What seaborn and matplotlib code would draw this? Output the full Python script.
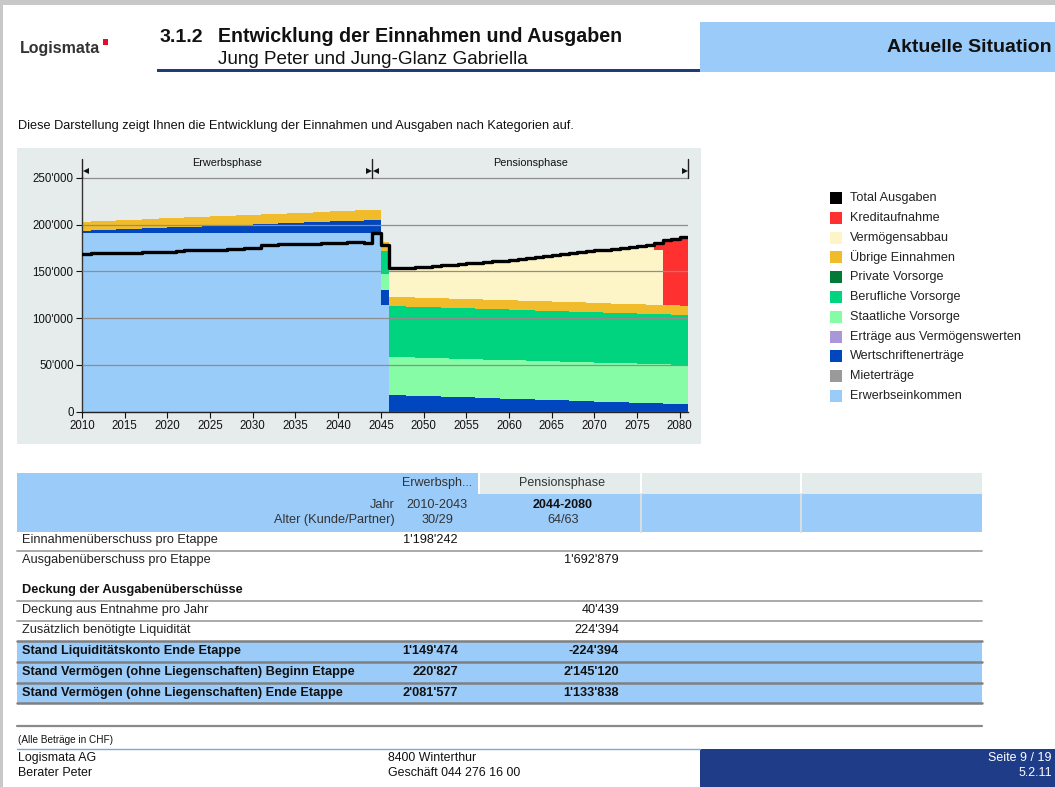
import matplotlib
matplotlib.use("Agg")
import matplotlib.pyplot as plt
from matplotlib.patches import Rectangle
from matplotlib.lines import Line2D
from matplotlib.ticker import FuncFormatter
import seaborn as sns
import pandas as pd
import numpy as np

# ---------------- data (CHF thousands) ----------------
years = list(range(2010, 2081))

# Erwerbsphase columns 2010-2044
eink_a = [191.0, 191.0, 191.0, 191.0, 191.0, 191.0, 191.0, 191.0, 191.0, 191.0,
          191.0, 191.0, 191.0, 191.0, 191.0, 191.0, 191.0, 191.0, 191.0, 191.0,
          191.0, 191.0, 191.0, 191.0, 191.0, 191.0, 191.0, 191.0, 191.0, 191.0,
          191.0, 191.0, 191.0, 191.0, 191.0]
wert_a = [2.8, 3.1, 3.5, 3.8, 4.1, 4.5, 4.8, 5.1, 5.5, 5.8, 6.1, 6.5, 6.8, 7.1, 7.5,
          7.8, 8.1, 8.5, 8.8, 9.1, 9.5, 9.8, 10.1, 10.5, 10.8, 11.1, 11.5, 11.8, 12.1,
          12.5, 12.8, 13.1, 13.5, 13.8, 14.1]
uebr_a = [9.5, 9.5, 9.6, 9.6, 9.7, 9.7, 9.7, 9.8, 9.8, 9.9, 9.9, 9.9, 10.0, 10.0, 10.1,
          10.1, 10.1, 10.2, 10.2, 10.3, 10.3, 10.3, 10.4, 10.4, 10.5, 10.5, 10.5, 10.6,
          10.6, 10.7, 10.7, 10.7, 10.8, 10.8, 10.8]
total_a = [168.4, 169.4, 169.4, 169.4, 169.4, 169.4, 170.1, 171.2, 171.2, 171.2, 171.2,
           172.2, 172.6, 172.6, 172.6, 172.6, 173.3, 173.8, 173.8, 175.4, 175.4, 178.0,
           178.0, 179.0, 179.0, 179.0, 179.0, 179.0, 180.1, 180.1, 180.1, 181.5, 181.5,
           180.8, 190.8]

# transition year 2045
eink_b, wert_b, staat_b, beruf_b, uebr_b, total_b = 114.0, 16.0, 17.0, 25.0, 10.0, 178.3

# Pensionsphase 2046-2080
wert_c = [17.9, 17.6, 17.3, 17.0, 16.7, 16.4, 16.1, 15.8, 15.5, 15.3, 15.0, 14.7, 14.4,
          14.1, 13.8, 13.5, 13.2, 12.9, 12.6, 12.3, 12.0, 11.7, 11.4, 11.1, 10.8, 10.5,
          10.2, 9.9, 9.6, 9.3, 9.1, 8.8, 8.5, 8.2, 7.9]
staat_c = [40.6, 40.6, 40.7, 40.7, 40.8, 40.8, 40.9, 40.9, 41.0, 41.0, 41.1, 41.1, 41.2,
           41.2, 41.3, 41.3, 41.4, 41.4, 41.5, 41.5, 41.6, 41.6, 41.7, 41.7, 41.8, 41.8,
           41.9, 41.9, 42.0, 42.0, 42.0, 42.1, 42.1, 42.1, 42.1]
beruf_c = [54.5, 54.5, 54.4, 54.4, 54.4, 54.3, 54.3, 54.3, 54.2, 54.2, 54.2, 54.1, 54.1,
           54.1, 54.0, 54.0, 54.0, 53.9, 53.9, 53.9, 53.8, 53.8, 53.8, 53.7, 53.7, 53.7,
           53.6, 53.6, 53.6, 53.5, 53.5, 53.5, 53.4, 53.4, 53.4]
uebr_c = [10.0, 10.0, 10.0, 10.0, 10.0, 10.0, 10.0, 10.0, 10.0, 10.0, 10.0, 10.0, 10.0,
          10.0, 10.0, 10.0, 10.0, 10.0, 10.0, 10.0, 10.0, 10.0, 10.0, 10.0, 10.0, 10.0,
          10.0, 10.0, 10.0, 10.0, 10.0, 10.0, 10.0, 10.0, 10.0]
verm_c = [30.4, 30.7, 31.8, 32.5, 33.2, 34.3, 35.2, 36.2, 37.2, 38.1, 39.0, 40.1, 41.1,
          42.1, 43.2, 44.5, 45.7, 47.1, 48.3, 49.6, 51.0, 52.3, 53.6, 55.0, 56.3, 57.5,
          58.8, 60.0, 61.2, 62.5, 63.8, 58.6, 0.0, 0.0, 0.0]
kredit_c = [0.0, 0.0, 0.0, 0.0, 0.0, 0.0, 0.0, 0.0, 0.0, 0.0, 0.0, 0.0, 0.0, 0.0, 0.0,
            0.0, 0.0, 0.0, 0.0, 0.0, 0.0, 0.0, 0.0, 0.0, 0.0, 0.0, 0.0, 0.0, 0.0, 0.0,
            0.0, 7.0, 69.2, 71.5, 73.6]
total_c = [153.4, 153.4, 154.2, 154.6, 155.1, 155.8, 156.5, 157.2, 157.9, 158.6, 159.3,
           160.0, 160.8, 161.5, 162.3, 163.3, 164.3, 165.3, 166.3, 167.3, 168.4, 169.4,
           170.5, 171.5, 172.6, 173.5, 174.5, 175.4, 176.4, 177.3, 178.4, 180.0, 183.2,
           185.2, 187.0]

legend_labels = ["Total Ausgaben", "Kreditaufnahme", "Vermögensabbau", "Übrige Einnahmen",
                 "Private Vorsorge", "Berufliche Vorsorge", "Staatliche Vorsorge",
                 "Erträge aus Vermögenswerten", "Wertschriftenerträge", "Mieterträge",
                 "Erwerbseinkommen"]
legend_colors = ["#000000", "#FF3030", "#FDF4C8", "#F0BC2C", "#007A36", "#00D47E",
                 "#86FCA6", "#A898DA", "#0046BE", "#9A9A9A", "#9ACCFA"]

phase_names = ["Erwerbsphase", "Pensionsphase"]
phase_bounds = [2010, 2044, 2081]

row_labels = ["Einnahmenüberschuss pro Etappe", "Ausgabenüberschuss pro Etappe",
              "Deckung der Ausgabenüberschüsse", "Deckung aus Entnahme pro Jahr",
              "Zusätzlich benötigte Liquidität", "Stand Liquiditätskonto Ende Etappe",
              "Stand Vermögen (ohne Liegenschaften) Beginn Etappe",
              "Stand Vermögen (ohne Liegenschaften) Ende Etappe"]
erwerb_vals = ["1'198'242", "", "", "", "", "1'149'474", "220'827", "2'081'577"]
pension_vals = ["", "1'692'879", "", "40'439", "224'394", "-224'394", "2'145'120", "1'133'838"]
row_bold = [False, False, True, False, False, True, True, True]

# ---------------- build table ----------------
z35 = np.zeros(35)
def series(a, b, c):
    return np.concatenate([np.asarray(a, float), [b], np.asarray(c, float)]) * 1000

df = pd.DataFrame({
    "year": years,
    "Erwerbseinkommen": series(eink_a, eink_b, z35),
    "Mieterträge": series(z35, 0, z35),
    "Wertschriftenerträge": series(wert_a, wert_b, wert_c),
    "Erträge aus Vermögenswerten": series(z35, 0, z35),
    "Staatliche Vorsorge": series(z35, staat_b, staat_c),
    "Berufliche Vorsorge": series(z35, beruf_b, beruf_c),
    "Private Vorsorge": series(z35, 0, z35),
    "Übrige Einnahmen": series(uebr_a, uebr_b, uebr_c),
    "Vermögensabbau": series(z35, 0, verm_c),
    "Kreditaufnahme": series(z35, 0, kredit_c),
    "Total Ausgaben": series(total_a, total_b, total_c),
})
last = df.iloc[[-1]].copy()
last["year"] = years[-1] + 1
dfx = pd.concat([df, last], ignore_index=True)
colors = dict(zip(legend_labels, legend_colors))
stack_order = ["Erwerbseinkommen", "Mieterträge", "Wertschriftenerträge",
               "Erträge aus Vermögenswerten", "Staatliche Vorsorge", "Berufliche Vorsorge",
               "Private Vorsorge", "Übrige Einnahmen", "Vermögensabbau", "Kreditaufnahme"]

# ---------------- figure ----------------
sns.set_style("white")
plt.rcParams["font.family"] = ["Liberation Sans", "DejaVu Sans"]
W, H = 1055, 787
fig = plt.figure(figsize=(W / 100, H / 100), dpi=100)
fig.patch.set_facecolor("white")

def fx(x): return x / W
def fy(y): return 1 - y / H
def rect(x0, y0, x1, y1, color, z=0):
    fig.add_artist(Rectangle((fx(x0), fy(y1)), (x1 - x0) / W, (y1 - y0) / H,
                             transform=fig.transFigure, facecolor=color,
                             edgecolor="none", zorder=z))
def hline(x0, x1, y, color, lw):
    fig.add_artist(Line2D([fx(x0), fx(x1)], [fy(y), fy(y)], transform=fig.transFigure,
                          color=color, lw=lw, zorder=2))
def vline(x, y0, y1, color, lw):
    fig.add_artist(Line2D([fx(x), fx(x)], [fy(y0), fy(y1)], transform=fig.transFigure,
                          color=color, lw=lw, zorder=2))
def txt(x, y, s, size, ha="left", weight="normal", color="#111111"):
    fig.text(fx(x), fy(y), s, fontsize=size, ha=ha, va="center",
             fontweight=weight, color=color)

# page frame
rect(0, 0, W, 5, "#C8C8C8", z=-5)
rect(0, 0, 3, H, "#C8C8C8", z=-5)

# header
txt(20, 48, "Logismata", 11.5, weight="bold", color="#333333")
rect(103, 39, 108, 45, "#E0102A")
txt(160, 37, "3.1.2", 14, weight="bold")
txt(218, 37, "Entwicklung der Einnahmen und Ausgaben", 14.1, weight="bold")
txt(218, 59, "Jung Peter und Jung-Glanz Gabriella", 13.6)
rect(157, 69, 700, 72, "#1F3C7A")
rect(700, 22, W, 72, "#9ACBF9")
txt(1052, 47, "Aktuelle Situation", 14, ha="right", weight="bold")
txt(18, 126, "Diese Darstellung zeigt Ihnen die Entwicklung der Einnahmen und Ausgaben nach Kategorien auf.", 9.2)

# chart background
rect(17, 148, 701, 444, "#E6ECEC", z=-10)

# chart axes
px_per_val = (411.7 - 178.0) / 250000
ytop = 251500
ax_h = ytop * px_per_val
ax = fig.add_axes([fx(82), fy(411.7), (688.3 - 82) / W, ax_h / H])
ax.patch.set_alpha(0)
base = np.zeros(len(dfx))
for name in stack_order:
    top = base + dfx[name].values
    ax.fill_between(dfx["year"], base, top, step="post", color=colors[name],
                    linewidth=0, zorder=1)
    base = top
sns.lineplot(data=dfx, x="year", y="Total Ausgaben", drawstyle="steps-post",
             color="black", linewidth=2.4, ax=ax, zorder=5)
ax.set_xlim(2010, 2081)
ax.set_ylim(0, ytop)
ax.set_xticks(list(range(2010, 2081, 5)))
ax.set_yticks([0, 50000, 100000, 150000, 200000, 250000])
ax.yaxis.set_major_formatter(FuncFormatter(lambda v, p: f"{int(v):,}".replace(",", "'")))
ax.set_xlabel("")
ax.set_ylabel("")
ax.set_axisbelow(False)
ax.yaxis.grid(True, color="#8E8E8E", lw=0.9, zorder=3)
ax.xaxis.grid(False)
for s in ["top", "right"]:
    ax.spines[s].set_visible(False)
ax.spines["left"].set_color("#333333")
ax.spines["bottom"].set_color("#222222")
ax.spines["left"].set_linewidth(1.0)
ax.spines["bottom"].set_linewidth(1.0)
ax.tick_params(axis="both", labelsize=8.3, colors="#111111", length=4, width=0.8,
               direction="out", pad=2)
ax.tick_params(axis="y", left=True)
ax.tick_params(axis="x", bottom=True)

# phase brackets above the plot
yv = lambda py: (411.7 - py) / px_per_val
for b in phase_bounds:
    ax.plot([b, b], [yv(159), yv(178)], color="#222222", lw=1.0, clip_on=False, zorder=6)
arrow_y = yv(171)
for i, name in enumerate(phase_names):
    x0, x1 = phase_bounds[i], phase_bounds[i + 1]
    ax.plot([x0 + 0.42], [arrow_y], marker="<", ms=4.5, color="#111111", clip_on=False,
            zorder=6, mew=0)
    ax.plot([x1 - 0.42], [arrow_y], marker=">", ms=4.5, color="#111111", clip_on=False,
            zorder=6, mew=0)
    ax.text((x0 + x1) / 2, yv(163.5), name, fontsize=7.8, ha="center", va="center",
            color="#111111")

# legend
for i, (lab, col) in enumerate(zip(legend_labels, legend_colors)):
    yy = 198 + i * 19.8
    rect(830, yy - 6, 842, yy + 6, col, z=3)
    txt(850, yy, lab, 9.1, color="#222222")

# table header
rect(17, 473, 478, 494, "#9ACBF9")
rect(480, 473, 640, 494, "#E4EBEB")
rect(642, 473, 800, 494, "#E4EBEB")
rect(802, 473, 982, 494, "#E4EBEB")
rect(17, 494, 982, 532, "#9ACBF9")
vline(641, 494, 532, "#D6DEE2", 1.5)
vline(801, 494, 532, "#D6DEE2", 1.5)
txt(437, 483, "Erwerbsph...", 9, ha="center", color="#333333")
txt(562, 483, phase_names[1], 9, ha="center", color="#333333")
txt(395, 505, "Jahr", 9.2, ha="right", color="#333333")
txt(395, 520, "Alter (Kunde/Partner)", 9.2, ha="right", color="#333333")
txt(437, 505, "2010-2043", 9.2, ha="center", color="#333333")
txt(437, 520, "30/29", 9.2, ha="center", color="#333333")
txt(563, 505, "2044-2080", 9, ha="center", weight="bold")
txt(563, 520, "64/63", 9.2, ha="center", color="#333333")

# table body
row_y = [540, 560, 590, 610, 630, 651, 672, 693]
rect(17, 641, 982, 703, "#9ACBF9")
for yl in [551, 601, 620.5]:
    hline(17, 982, yl, "#A4A4A4", 1.3)
for yl in [641, 662, 683, 703]:
    hline(17, 982, yl, "#808080", 1.8)
for lab, ev, pv, yy, bold in zip(row_labels, erwerb_vals, pension_vals, row_y, row_bold):
    w = "bold" if bold else "normal"
    sz = 9.2 if bold else 9.2
    txt(22, yy, lab, sz, weight=w, color="#111111" if bold else "#222222")
    if ev:
        txt(458, yy, ev, sz, ha="right", weight=w)
    if pv:
        txt(619, yy, pv, sz, ha="right", weight=w)

# footer
hline(17, 982, 726, "#8A8A8A", 1.6)
txt(18, 740, "(Alle Beträge in CHF)", 7.2)
hline(17, 700, 748.5, "#7FA6D6", 1.0)
rect(700, 749, W, H, "#1F3C88")
txt(18, 758, "Logismata AG", 8.9)
txt(18, 773, "Berater Peter", 8.9)
txt(388, 758, "8400 Winterthur", 8.9)
txt(388, 773, "Geschäft 044 276 16 00", 8.9)
txt(1052, 758, "Seite 9 / 19", 8.9, ha="right", color="white")
txt(1052, 773, "5.2.11", 8.9, ha="right", color="white")

fig.savefig("out.png", dpi=100)
